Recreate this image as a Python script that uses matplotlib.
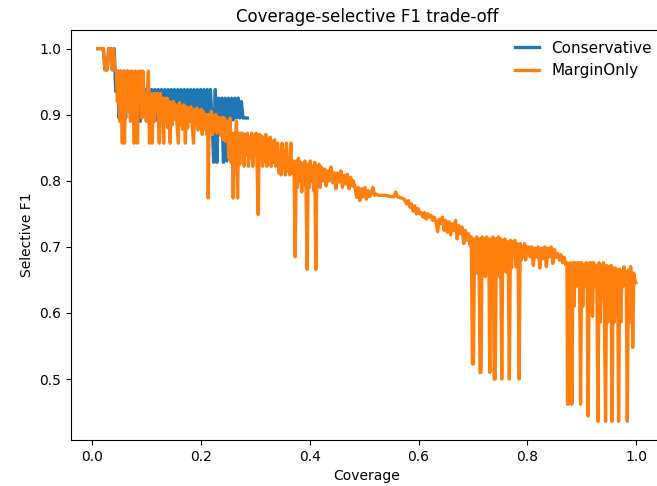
import matplotlib
matplotlib.use("Agg")
import matplotlib.pyplot as plt

title = "Coverage-selective F1 trade-off"
x_label = "Coverage"
y_label = "Selective F1"
series_names = ["Conservative", "MarginOnly"]

cons_cov = [
    0.010, 0.020, 0.023, 0.027, 0.030, 0.034, 0.037, 0.040, 0.043, 0.046,
    0.049, 0.052, 0.055, 0.058, 0.061, 0.064, 0.067, 0.070, 0.073, 0.076,
    0.079, 0.082, 0.085, 0.088, 0.091, 0.094, 0.097, 0.100, 0.103, 0.106,
    0.109, 0.112, 0.115, 0.118, 0.121, 0.124, 0.127, 0.130, 0.133, 0.136,
    0.139, 0.142, 0.145, 0.148, 0.151, 0.154, 0.157, 0.160, 0.163, 0.166,
    0.169, 0.172, 0.175, 0.178, 0.181, 0.184, 0.187, 0.190, 0.193, 0.196,
    0.199, 0.202, 0.205, 0.208, 0.211, 0.214, 0.217, 0.220, 0.223, 0.226,
    0.229, 0.232, 0.235, 0.238, 0.241, 0.244, 0.247, 0.250, 0.253, 0.256,
    0.259, 0.262, 0.265, 0.268, 0.271, 0.274, 0.277, 0.280, 0.285,
]
cons_f1 = [
    1.000, 1.000, 0.968, 0.968, 1.000, 1.000, 0.968, 1.000, 0.935, 0.966,
    0.895, 0.966, 0.935, 0.966, 0.895, 0.966, 0.935, 0.895, 0.935, 0.890,
    0.938, 0.895, 0.938, 0.890, 0.938, 0.900, 0.938, 0.892, 0.938, 0.895,
    0.938, 0.905, 0.938, 0.892, 0.938, 0.900, 0.938, 0.892, 0.938, 0.895,
    0.938, 0.905, 0.938, 0.892, 0.938, 0.900, 0.938, 0.892, 0.938, 0.895,
    0.938, 0.905, 0.938, 0.892, 0.938, 0.900, 0.938, 0.892, 0.938, 0.895,
    0.938, 0.892, 0.938, 0.900, 0.938, 0.892, 0.938, 0.895, 0.828, 0.938,
    0.828, 0.925, 0.892, 0.925, 0.828, 0.925, 0.830, 0.925, 0.895, 0.925,
    0.892, 0.925, 0.895, 0.925, 0.895, 0.920, 0.895, 0.895, 0.895,
]

margin_cov = [
    # A
    0.010, 0.020, 0.023, 0.027, 0.030, 0.033, 0.036, 0.039, 0.041, 0.044, 0.046,
    # B
    0.048, 0.050, 0.052, 0.055, 0.057, 0.059, 0.061, 0.063, 0.066, 0.068,
    0.070, 0.073, 0.075, 0.077, 0.079, 0.081, 0.083, 0.085, 0.087, 0.089,
    0.091, 0.093,
    # C
    0.095, 0.097, 0.099, 0.101, 0.103, 0.105, 0.107, 0.110, 0.112, 0.114,
    0.116, 0.118, 0.120, 0.123, 0.125, 0.127, 0.129, 0.131, 0.133, 0.135,
    0.137,
    # D
    0.139, 0.141, 0.143, 0.145, 0.147, 0.149, 0.151, 0.153, 0.156, 0.158,
    0.160, 0.162, 0.164, 0.166, 0.168, 0.171, 0.173, 0.175, 0.177, 0.179,
    0.181, 0.184, 0.186, 0.188, 0.190, 0.192, 0.194, 0.196, 0.198, 0.200,
    0.202, 0.204, 0.206, 0.208, 0.210,
    # E
    0.212, 0.213, 0.215, 0.217, 0.219, 0.221, 0.223, 0.225, 0.227, 0.229,
    0.231, 0.233, 0.235, 0.237, 0.239, 0.241, 0.243, 0.245, 0.247,
    # F
    0.249, 0.251, 0.253, 0.255, 0.257, 0.259, 0.261, 0.263, 0.265, 0.267,
    0.269, 0.271, 0.273, 0.275, 0.277, 0.279, 0.281, 0.283, 0.285, 0.287,
    0.289, 0.291, 0.293, 0.295, 0.297, 0.299, 0.301, 0.303, 0.305, 0.307,
    0.309, 0.311, 0.313, 0.315, 0.317, 0.319, 0.321, 0.323, 0.325, 0.327,
    0.329, 0.331, 0.333, 0.335, 0.337, 0.339,
    # G
    0.341, 0.343, 0.345, 0.347, 0.349, 0.351, 0.353, 0.355, 0.357, 0.359,
    0.361, 0.363, 0.365, 0.367, 0.369, 0.371, 0.373,
    # H
    0.375, 0.377, 0.379, 0.381, 0.383, 0.385, 0.387, 0.389, 0.391, 0.393,
    0.395, 0.397, 0.399, 0.401, 0.403, 0.405, 0.407, 0.409, 0.411, 0.413,
    0.415, 0.417, 0.419,
    # I
    0.421, 0.424, 0.427, 0.430, 0.433, 0.436, 0.439, 0.442, 0.445, 0.448,
    0.451, 0.454, 0.457, 0.460, 0.463, 0.466, 0.469, 0.472, 0.475, 0.478,
    0.480,
    # J
    0.483, 0.486, 0.489, 0.492, 0.495, 0.498, 0.501, 0.504, 0.507, 0.510,
    0.513, 0.516, 0.519, 0.522, 0.526, 0.530,
    # K
    0.540, 0.548, 0.555, 0.558, 0.561, 0.568, 0.574,
    # L
    0.578, 0.581, 0.584, 0.587, 0.590, 0.593, 0.596, 0.599, 0.602, 0.605,
    # M
    0.608, 0.611, 0.614, 0.617, 0.620, 0.623, 0.626, 0.629, 0.632, 0.635,
    0.638, 0.641,
    # N
    0.644, 0.647, 0.650, 0.653, 0.656, 0.659, 0.662, 0.665, 0.668, 0.671,
    0.674, 0.677, 0.680, 0.683, 0.686, 0.689, 0.692, 0.695,
    # O
    0.697, 0.699, 0.701, 0.703, 0.705, 0.707, 0.709, 0.711, 0.713, 0.715,
    0.717, 0.719, 0.721, 0.723, 0.725, 0.727, 0.729, 0.731, 0.733, 0.735,
    0.737, 0.739, 0.741, 0.743, 0.745, 0.747, 0.749, 0.751, 0.753, 0.755,
    0.757, 0.759, 0.761, 0.763, 0.765, 0.767, 0.769, 0.771, 0.773, 0.775,
    0.777, 0.779, 0.781, 0.783, 0.785, 0.787, 0.789, 0.791, 0.793, 0.795,
    0.797, 0.799, 0.801, 0.803,
    # P
    0.805, 0.808, 0.811, 0.814, 0.817, 0.820, 0.823, 0.826, 0.829, 0.832,
    0.835, 0.838, 0.841, 0.844, 0.847, 0.850, 0.853, 0.856, 0.859, 0.862,
    0.865, 0.868, 0.871,
    # Q
    0.873, 0.874, 0.876, 0.878, 0.880, 0.882, 0.884, 0.886, 0.888, 0.890,
    0.892, 0.894, 0.896, 0.898, 0.900, 0.902, 0.904, 0.906, 0.908, 0.910,
    0.912, 0.914, 0.916, 0.918, 0.920, 0.922, 0.924, 0.926, 0.928, 0.930,
    0.932, 0.934, 0.936, 0.938, 0.940, 0.942, 0.944, 0.946, 0.948, 0.950,
    0.952, 0.954, 0.956, 0.958, 0.960, 0.962, 0.964, 0.966, 0.968, 0.970,
    0.972, 0.974, 0.976, 0.978, 0.980, 0.982, 0.984, 0.986, 0.988, 0.990,
    0.992, 0.994, 0.996, 0.998, 1.000,
]
margin_f1 = [
    # A
    1.000, 1.000, 0.968, 0.968, 1.000, 1.000, 0.968, 1.000, 0.968, 0.966, 0.920,
    # B
    0.966, 0.890, 0.966, 0.857, 0.966, 0.857, 0.930, 0.966, 0.905, 0.966,
    0.890, 0.966, 0.922, 0.857, 0.966, 0.905, 0.857, 0.966, 0.920, 0.966,
    0.895, 0.966,
    # C
    0.905, 0.932, 0.890, 0.932, 0.966, 0.857, 0.932, 0.857, 0.932, 0.890,
    0.932, 0.905, 0.932, 0.857, 0.932, 0.890, 0.925, 0.857, 0.925, 0.890,
    0.925,
    # D
    0.880, 0.920, 0.857, 0.918, 0.885, 0.920, 0.895, 0.915, 0.880, 0.857,
    0.918, 0.885, 0.912, 0.878, 0.915, 0.857, 0.912, 0.880, 0.910, 0.890,
    0.912, 0.878, 0.857, 0.908, 0.885, 0.910, 0.877, 0.905, 0.880, 0.908,
    0.870, 0.905, 0.878, 0.900, 0.870,
    # E
    0.900, 0.774, 0.900, 0.876, 0.905, 0.870, 0.898, 0.876, 0.900, 0.872,
    0.896, 0.876, 0.895, 0.868, 0.896, 0.862, 0.895, 0.860, 0.890,
    # F
    0.872, 0.835, 0.895, 0.828, 0.872, 0.774, 0.872, 0.840, 0.890, 0.774,
    0.872, 0.825, 0.872, 0.845, 0.872, 0.822, 0.870, 0.840, 0.872, 0.822,
    0.866, 0.835, 0.872, 0.822, 0.868, 0.840, 0.872, 0.822, 0.749, 0.870,
    0.835, 0.868, 0.822, 0.866, 0.830, 0.870, 0.822, 0.862, 0.835, 0.866,
    0.822, 0.860, 0.828, 0.862, 0.822, 0.855,
    # G
    0.857, 0.812, 0.840, 0.809, 0.857, 0.820, 0.845, 0.809, 0.857, 0.815,
    0.835, 0.809, 0.857, 0.812, 0.830, 0.809, 0.685,
    # H
    0.830, 0.790, 0.834, 0.800, 0.828, 0.783, 0.825, 0.795, 0.830, 0.785,
    0.666, 0.825, 0.790, 0.830, 0.800, 0.822, 0.785, 0.828, 0.666, 0.822,
    0.795, 0.825, 0.790,
    # I
    0.821, 0.800, 0.818, 0.792, 0.815, 0.800, 0.821, 0.797, 0.812, 0.788,
    0.812, 0.798, 0.815, 0.790, 0.808, 0.795, 0.810, 0.788, 0.805, 0.792,
    0.800,
    # J
    0.790, 0.775, 0.790, 0.770, 0.788, 0.776, 0.790, 0.772, 0.785, 0.776,
    0.782, 0.790, 0.778, 0.780, 0.778, 0.778,
    # K
    0.778, 0.776, 0.776, 0.783, 0.776, 0.774, 0.772,
    # L
    0.765, 0.770, 0.760, 0.765, 0.754, 0.762, 0.750, 0.758, 0.750, 0.752,
    # M
    0.745, 0.752, 0.742, 0.750, 0.745, 0.748, 0.740, 0.745, 0.738, 0.723,
    0.742, 0.735,
    # N
    0.745, 0.725, 0.740, 0.722, 0.738, 0.718, 0.735, 0.725, 0.740, 0.712,
    0.732, 0.720, 0.730, 0.705, 0.725, 0.710, 0.720, 0.702,
    # O
    0.715, 0.523, 0.523, 0.712, 0.670, 0.715, 0.660, 0.712, 0.510, 0.510,
    0.715, 0.670, 0.712, 0.655, 0.715, 0.680, 0.712, 0.510, 0.712, 0.660,
    0.715, 0.500, 0.500, 0.712, 0.665, 0.715, 0.655, 0.712, 0.500, 0.710,
    0.670, 0.712, 0.662, 0.708, 0.680, 0.500, 0.710, 0.668, 0.708, 0.690,
    0.710, 0.670, 0.705, 0.690, 0.500, 0.705, 0.680, 0.700, 0.685, 0.705,
    0.680, 0.700, 0.690, 0.700,
    # P
    0.685, 0.700, 0.672, 0.698, 0.685, 0.700, 0.668, 0.698, 0.682, 0.700,
    0.670, 0.698, 0.685, 0.700, 0.675, 0.696, 0.684, 0.690, 0.680, 0.688,
    0.676, 0.684, 0.672,
    # Q
    0.676, 0.462, 0.462, 0.676, 0.610, 0.462, 0.676, 0.610, 0.676, 0.640,
    0.676, 0.650, 0.676, 0.462, 0.676, 0.610, 0.672, 0.640, 0.676, 0.650,
    0.444, 0.676, 0.640, 0.676, 0.595, 0.676, 0.640, 0.672, 0.650, 0.436,
    0.676, 0.586, 0.672, 0.640, 0.676, 0.586, 0.436, 0.672, 0.586, 0.670,
    0.640, 0.672, 0.436, 0.668, 0.586, 0.668, 0.620, 0.666, 0.436, 0.666,
    0.586, 0.662, 0.640, 0.670, 0.650, 0.662, 0.436, 0.665, 0.586, 0.670,
    0.650, 0.548, 0.660, 0.650, 0.646,
]

fig = plt.figure(figsize=(6.57, 4.86), dpi=100)
ax = fig.add_axes([0.108, 0.0947, 0.901, 0.8436])
ax.plot(cons_cov, cons_f1, color="#1f77b4", lw=2.4, label=series_names[0])
ax.plot(margin_cov, margin_f1, color="#ff7f0e", lw=2.4, label=series_names[1])
ax.set_title(title, fontsize=12)
ax.set_xlabel(x_label)
ax.set_ylabel(y_label)
ax.legend(loc="upper right", frameon=False, fontsize=11, handlelength=1.6,
          borderaxespad=0.3)
fig.savefig("out.png", dpi=100)
